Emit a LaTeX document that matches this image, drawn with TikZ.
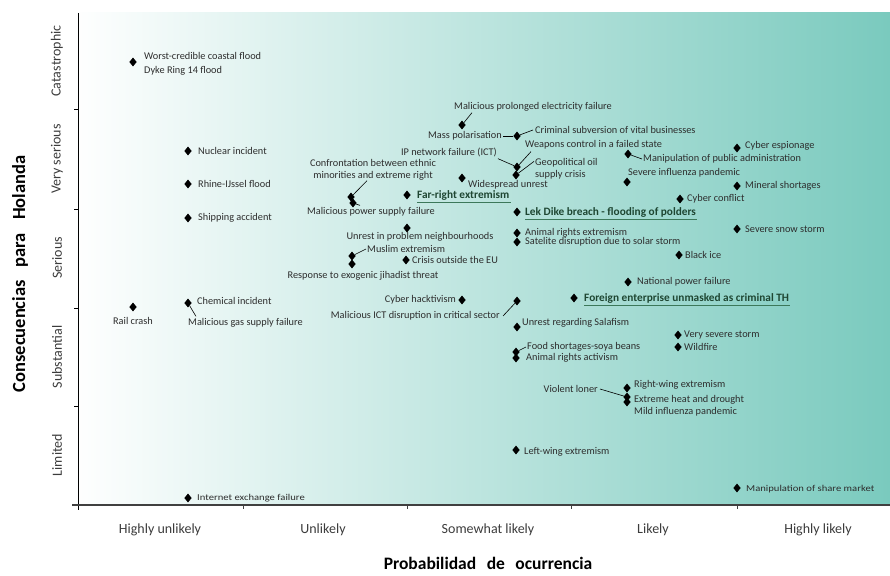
\documentclass[tikz,border=0pt]{standalone}
\usepackage{fontspec}
\setmainfont{Carlito}
\usetikzlibrary{shapes.geometric}
\definecolor{txt}{RGB}{45,45,45}
\definecolor{axistxt}{RGB}{60,60,60}
\definecolor{teal}{RGB}{122,202,190}
\definecolor{keytxt}{RGB}{30,70,50}
\definecolor{keyline}{RGB}{60,120,90}
\tikzset{
  pt/.style={diamond, fill=black, inner sep=0pt, minimum width=7.5pt, minimum height=9pt},
  lbl/.style={font=\fontsize{10.3}{12}\selectfont, text=txt, inner sep=0pt, align=left},
  small/.style={lbl, font=\fontsize{9}{10}\selectfont},
  keylbl/.style={lbl, font=\fontsize{11.3}{13}\selectfont\bfseries, text=keytxt},
  keyrule/.style={draw=keyline, line width=1.1pt},
  conn/.style={draw=black, line width=0.6pt},
  cat/.style={font=\fontsize{14}{16}\selectfont, text=axistxt, inner sep=0pt},
  ttl/.style={font=\fontsize{17.5}{20}\selectfont\bfseries, text=black, inner sep=0pt},
}
\begin{document}
\begin{tikzpicture}[x=1pt,y=-1pt]
\useasboundingbox (0,0) rectangle (890,575);
% plotting field
\shade[left color=white, right color=teal] (72,13) rectangle (890,505);
% axes and ticks
\draw[black, line width=0.8pt] (78,13) -- (78,510);
\draw[black!75, line width=1.3pt] (72,505) -- (890,505);
\foreach \yy in {109,209,308,406} \draw[black, line width=0.7pt] (74,\yy) -- (78,\yy);
\foreach \xx in {243,407,571,737} \draw[black!75, line width=0.7pt] (\xx,505) -- (\xx,509);

% category labels
\node[cat, rotate=90] (cCat) at (57,61) {Catastrophic};
\node[cat, rotate=90] (cVser) at (57,159) {Very serious};
\node[cat, rotate=90] (cSer) at (57,258) {Serious};
\node[cat, rotate=90] (cSub) at (57,357) {Substantial};
\node[cat, rotate=90] (cLim) at (57,455) {Limited};
\node[cat] (pHU) at (160,530) {Highly unlikely};
\node[cat] (pU) at (323,530) {Unlikely};
\node[cat] (pSL) at (488,530) {Somewhat likely};
\node[cat] (pL) at (653,530) {Likely};
\node[cat] (pHL) at (818,530) {Highly likely};
\node[ttl] (xt) at (488,563) {Probabilidad\hspace{0.6em}de\hspace{0.6em}ocurrencia};
\node[ttl, font=\fontsize{18.5}{21}\selectfont\bfseries, rotate=90] (yt) at (20,274) {Consecuencias\hspace{0.7em}para\hspace{0.7em}Holanda};

% risks
\node[pt] (dflood) at (133,62) {};
\node[lbl, anchor=west] (lflood) at (144,56) {Worst-credible coastal flood};
\node[lbl, anchor=west] (ldyke) at (144,71) {Dyke Ring 14 flood};

\node[pt] (dnuc) at (188,151) {};
\node[lbl, anchor=west] (lnuc) at (198,151) {Nuclear incident};
\node[pt] (drhine) at (188,184) {};
\node[lbl, anchor=west] (lrhine) at (198,184) {Rhine-IJssel flood};
\node[pt] (dship) at (188,218) {};
\node[lbl, anchor=west] (lship) at (198,218) {Shipping accident};

\node[pt] (drail) at (133,307) {};
\node[lbl] (lrail) at (133,321) {Rail crash};
\node[pt] (dchem) at (188,303) {};
\node[lbl, anchor=west] (lchem) at (197,301) {Chemical incident};
\node[lbl, anchor=west] (lgas) at (188,323) {Malicious gas supply failure};
\draw[conn] (dchem) -- ([xshift=8pt,yshift=2pt]lgas.north west);

\node[pt] (dmpe) at (462,125) {};
\node[lbl, anchor=west] (lmpe) at (454,107) {Malicious prolonged electricity failure};
\draw[conn] ([xshift=18pt,yshift=-1pt]lmpe.south west) -- (dmpe);

\node[pt] (dcrim) at (517,136) {};
\node[lbl, anchor=east] (lmpol) at (502,136) {Mass polarisation};
\node[lbl, anchor=west] (lcrim) at (535,130) {Criminal subversion of vital businesses};
\draw[conn] ([xshift=1pt]lmpol.east) -- (dcrim);
\draw[conn] ([xshift=-2pt]lcrim.west) -- (dcrim);

\node[pt] (dip) at (517,167) {};
\node[pt] (dgeo) at (516,175) {};
\node[lbl, anchor=west] (lweap) at (525,145) {Weapons control in a failed state};
\node[lbl, anchor=east] (lip) at (497,152) {IP network failure (ICT)};
\node[lbl, anchor=west] (lgeo) at (535,169) {Geopolitical oil\\supply crisis};
\draw[conn] ([xshift=1pt,yshift=-2pt]lip.south east) -- (dip);
\draw[conn] (dip) -- ([xshift=6pt,yshift=-2pt]lweap.south west);
\draw[conn] (dgeo) -- ([xshift=-1pt,yshift=-3pt]lgeo.north west);

\node[pt] (dwide) at (462,178) {};
\node[lbl, anchor=west] (lwide) at (468,185) {Widespread unrest};

\node[pt] (dconf) at (351,197) {};
\node[pt] (dmpsf) at (353,203) {};
\node[lbl, align=center] (lconf) at (373,170) {Confrontation between ethnic\\minorities and extreme right};
\node[lbl] (lmpsf) at (371,212) {Malicious power supply failure};
\draw[conn] ([xshift=-6pt]lconf.south) -- (dconf);
\draw[conn] (dmpsf) -- ([xshift=-11pt,yshift=2pt]lmpsf.north);

\node[pt] (dfar) at (407,195) {};
\node[keylbl, anchor=west] (lfar) at (417,195) {Far-right extremism};
\draw[keyrule] ([yshift=-2pt]lfar.south west) -- ([xshift=1pt,yshift=-2pt]lfar.south east);

\node[pt] (dunr) at (407,228) {};
\node[lbl] (lunr) at (420,237) {Unrest in problem neighbourhoods};
\node[pt] (dmus) at (352,256) {};
\node[pt] (dresp) at (352,264) {};
\node[lbl, anchor=west] (lmus) at (367,249) {Muslim extremism};
\draw[conn] ([xshift=-1pt]lmus.west) -- (dmus);
\node[lbl] (lresp) at (363,276) {Response to exogenic jihadist threat};
\node[pt] (dcris) at (406,260) {};
\node[lbl, anchor=west] (lcris) at (412,260) {Crisis outside the EU};

\node[pt] (dlek) at (517,212) {};
\node[keylbl, anchor=west] (llek) at (525,212) {Lek Dike breach - flooding of polders};
\draw[keyrule] ([yshift=-2pt]llek.south west) -- ([xshift=1pt,yshift=-2pt]llek.south east);
\node[pt] (dare) at (517,233) {};
\node[lbl, anchor=west] (lare) at (525,233) {Animal rights extremism};
\node[pt] (dsat) at (517,242) {};
\node[lbl, anchor=west] (lsat) at (525,242) {Satelite disruption due to solar storm};

\node[pt] (dhack) at (462,300) {};
\node[lbl, anchor=east] (lhack) at (456,300) {Cyber hacktivism};
\node[pt] (dmict) at (517,301) {};
\node[lbl, anchor=east] (lmict) at (500,316) {Malicious ICT disruption in critical sector};
\draw[conn] ([xshift=3pt]lmict.east) -- (dmict);

\node[pt] (dfor) at (574,298) {};
\node[keylbl, anchor=west] (lfor) at (584,298) {Foreign enterprise unmasked as criminal TH};
\draw[keyrule] ([yshift=-2pt]lfor.south west) -- ([xshift=1pt,yshift=-2pt]lfor.south east);

\node[pt] (dsal) at (517,327) {};
\node[lbl, anchor=west] (lsal) at (522,323) {Unrest regarding Salafism};
\node[pt] (dfood) at (516,352) {};
\node[pt] (danim) at (516,358) {};
\node[lbl, anchor=west] (lfood) at (527,347) {Food shortages-soya beans};
\draw[conn] ([xshift=-1pt]lfood.west) -- (dfood);
\node[lbl, anchor=west] (lanim) at (526,358) {Animal rights activism};

\node[pt] (drwe) at (627,388) {};
\node[pt] (dheat) at (627,397) {};
\node[pt] (dmild) at (627,402) {};
\node[lbl, anchor=west] (lrwe) at (634,385) {Right-wing extremism};
\node[lbl, anchor=west] (lheat) at (634,400) {Extreme heat and drought};
\node[lbl, anchor=west] (lmild) at (634,412) {Mild influenza pandemic};
\node[lbl, anchor=east] (lviol) at (598,389) {Violent loner};
\draw[conn] ([xshift=2pt]lviol.east) -- (dheat);

\node[pt] (dcyesp) at (737,148) {};
\node[lbl, anchor=west] (lcyesp) at (745,146) {Cyber espionage};
\node[pt] (dmanpa) at (628,154) {};
\node[lbl, anchor=west] (lmanpa) at (643,159) {Manipulation of public administration};
\draw[conn] ([xshift=-1pt]lmanpa.west) -- (dmanpa);
\node[pt] (dsevinf) at (627,182) {};
\node[lbl, anchor=west] (lsevinf) at (628,173) {Severe influenza pandemic};
\node[pt] (dmin) at (737,186) {};
\node[lbl, anchor=west] (lmin) at (745,186) {Mineral shortages};
\node[pt] (dcycon) at (680,199) {};
\node[lbl, anchor=west] (lcycon) at (687,199) {Cyber conflict};
\node[pt] (dsnow) at (737,229) {};
\node[lbl, anchor=west] (lsnow) at (745,229) {Severe snow storm};
\node[pt] (dblack) at (679,255) {};
\node[lbl, anchor=west] (lblack) at (685,255) {Black ice};
\node[pt] (dnat) at (628,282) {};
\node[lbl, anchor=west] (lnat) at (637,282) {National power failure};
\node[pt] (dvss) at (678,335) {};
\node[lbl, anchor=west] (lvss) at (684,335) {Very severe storm};
\node[pt] (dwild) at (678,347) {};
\node[lbl, anchor=west] (lwild) at (684,347) {Wildfire};

\node[pt] (dleft) at (516,450) {};
\node[lbl, anchor=west] (lleft) at (524,452) {Left-wing extremism};
\node[pt] (dshare) at (737,488) {};
\node[small, anchor=west] (lshare) at (746,489) {\scalebox{1.18}[1]{Manipulation of share market}};
\node[pt] (dinet) at (188,498) {};
\node[small, anchor=west] (linet) at (197,498) {\scalebox{1.18}[1]{Internet exchange failure}};
\end{tikzpicture}
\end{document}
